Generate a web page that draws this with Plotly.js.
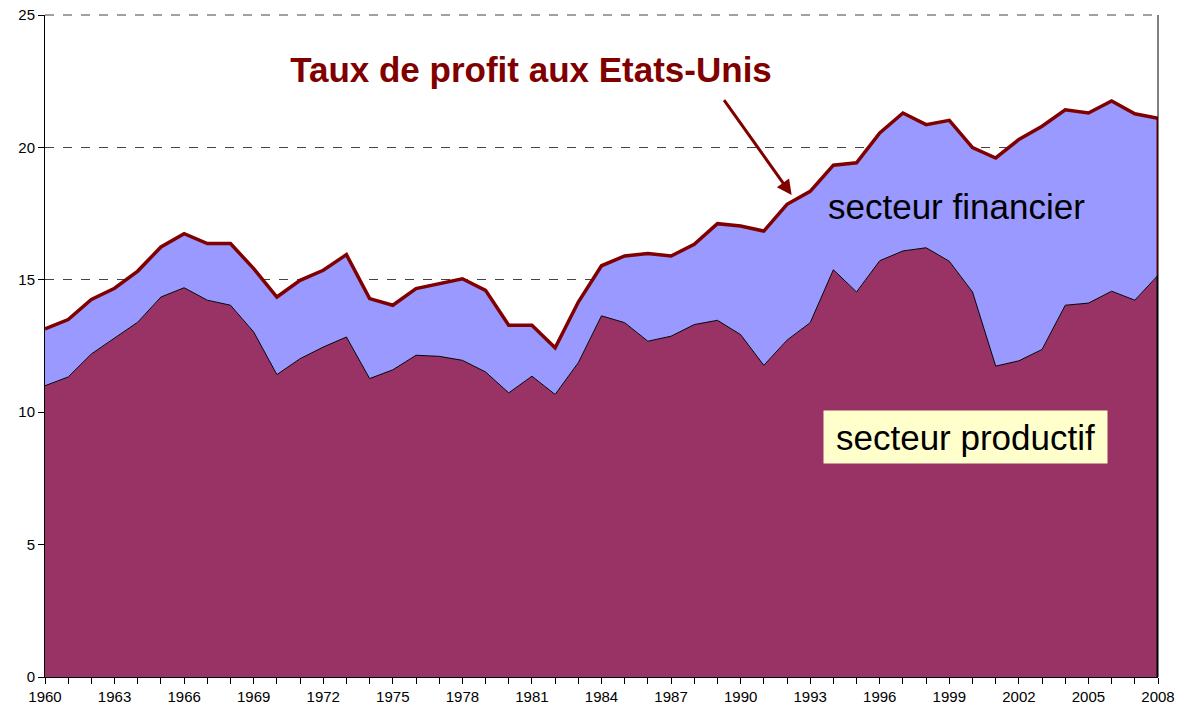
<!DOCTYPE html>
<html>
<head>
<meta charset="utf-8">
<script src="https://cdn.plot.ly/plotly-3.0.1.min.js"></script>
<style>html,body{margin:0;padding:0;background:#fff;}#chart{width:1184px;height:716px;}</style>
</head>
<body>
<div id="chart"></div>
<script>
// Years 1960-2008
const years = [1960,1961,1962,1963,1964,1965,1966,1967,1968,1969,
  1970,1971,1972,1973,1974,1975,1976,1977,1978,1979,
  1980,1981,1982,1983,1984,1985,1986,1987,1988,1989,
  1990,1991,1992,1993,1994,1995,1996,1997,1998,1999,
  2000,2001,2002,2003,2004,2005,2006,2007,2008];

// Profit rate, productive sector (%)
const productif = [11.0,11.33,12.2,12.8,13.4,14.35,14.7,14.23,14.04,13.03,
  11.42,12.02,12.46,12.84,11.27,11.6,12.15,12.11,11.96,11.52,
  10.73,11.36,10.67,11.87,13.64,13.38,12.68,12.87,13.31,13.47,
  12.93,11.77,12.72,13.38,15.38,14.54,15.72,16.09,16.21,15.7,
  14.54,11.74,11.94,12.37,14.04,14.12,14.57,14.23,15.17];

// Total profit rate (productive + financial) (%)
const total = [13.15,13.5,14.26,14.68,15.33,16.24,16.74,16.37,16.37,15.42,
  14.35,14.98,15.36,15.95,14.29,14.04,14.67,14.86,15.04,14.6,
  13.28,13.28,12.43,14.16,15.53,15.9,15.99,15.9,16.34,17.12,
  17.03,16.84,17.85,18.34,19.33,19.42,20.55,21.3,20.86,21.02,
  19.99,19.6,20.3,20.8,21.42,21.3,21.75,21.27,21.1];

const titleText = 'Taux de profit aux Etats-Unis';
const labelFin = 'secteur financier';
const labelProd = 'secteur productif';

const FONT = 'Liberation Sans, Arial, sans-serif';
const last = years.length - 1;

const traces = [
  {
    x: years, y: productif, type: 'scatter', mode: 'lines',
    fill: 'tozeroy', fillcolor: '#993366',
    line: {color: '#000000', width: 1}, hoverinfo: 'skip'
  },
  {
    x: years, y: total, type: 'scatter', mode: 'lines',
    fill: 'tonexty', fillcolor: '#9999FF',
    line: {color: '#800000', width: 3.5}, hoverinfo: 'skip'
  },
  {
    x: [years[last], years[last]], y: [0, productif[last]], type: 'scatter', mode: 'lines',
    line: {color: '#000000', width: 3}, hoverinfo: 'skip'
  },
  {
    x: [years[last], years[last]], y: [productif[last], total[last]], type: 'scatter', mode: 'lines',
    line: {color: '#800000', width: 3}, hoverinfo: 'skip'
  }
];

const layout = {
  width: 1184, height: 716,
  margin: {l: 45, r: 26, t: 15, b: 39},
  paper_bgcolor: '#ffffff', plot_bgcolor: '#ffffff',
  showlegend: false, hovermode: false,
  font: {family: FONT, color: '#000000', size: 15},
  title: {
    text: titleText,
    font: {family: FONT, size: 35, color: '#800000', weight: 'bold'},
    x: 531/1184, xanchor: 'center', xref: 'container',
    y: 1 - 70/716, yanchor: 'middle', yref: 'container'
  },
  xaxis: {
    range: [1960, 2008], tick0: 1960, dtick: 3,
    ticks: 'outside', ticklen: 6, tickcolor: '#000', tickwidth: 1,
    minor: {dtick: 1, ticks: 'outside', ticklen: 6, tickcolor: '#000', showgrid: false},
    showgrid: false, zeroline: false,
    showline: true, linecolor: '#000', linewidth: 1,
    tickfont: {family: FONT, size: 15, color: '#000'}
  },
  yaxis: {
    range: [0, 25], tick0: 0, dtick: 5,
    ticks: 'outside', ticklen: 6, tickcolor: '#000', tickwidth: 1,
    showgrid: true, gridcolor: '#444444', griddash: 'dash', gridwidth: 1,
    zeroline: false, showline: true, linecolor: '#000', linewidth: 1,
    tickfont: {family: FONT, size: 15, color: '#000'}
  },
  shapes: [
    {type: 'line', xref: 'paper', yref: 'paper', x0: 1, x1: 1, y0: 0, y1: 1,
     line: {color: '#000', width: 1}},
    {type: 'line', xref: 'paper', yref: 'paper', x0: 0, x1: 1, y0: 1, y1: 1,
     line: {color: '#444444', width: 1, dash: 'dash'}}
  ],
  annotations: [
    {
      x: 1992.2, y: 18.2, xref: 'x', yref: 'y',
      ax: -69, ay: -97, axref: 'pixel', ayref: 'pixel',
      text: ' ', font: {size: 1},
      showarrow: true, arrowhead: 2, arrowsize: 1, arrowwidth: 3,
      arrowcolor: '#800000', standoff: 0, startstandoff: 0
    },
    {
      x: 1999.33, y: 17.75, xref: 'x', yref: 'y',
      text: labelFin, showarrow: false,
      font: {family: FONT, size: 35, color: '#000'},
      xanchor: 'center', yanchor: 'middle'
    },
    {
      x: 1999.69, y: 9.06, xref: 'x', yref: 'y',
      text: labelProd, showarrow: false,
      font: {family: FONT, size: 35, color: '#000'},
      bgcolor: '#FFFFCC', borderpad: 0, width: 283, height: 52,
      xanchor: 'center', yanchor: 'middle'
    }
  ]
};

Plotly.newPlot('chart', traces, layout, {displayModeBar: false, staticPlot: true});
</script>
</body>
</html>
